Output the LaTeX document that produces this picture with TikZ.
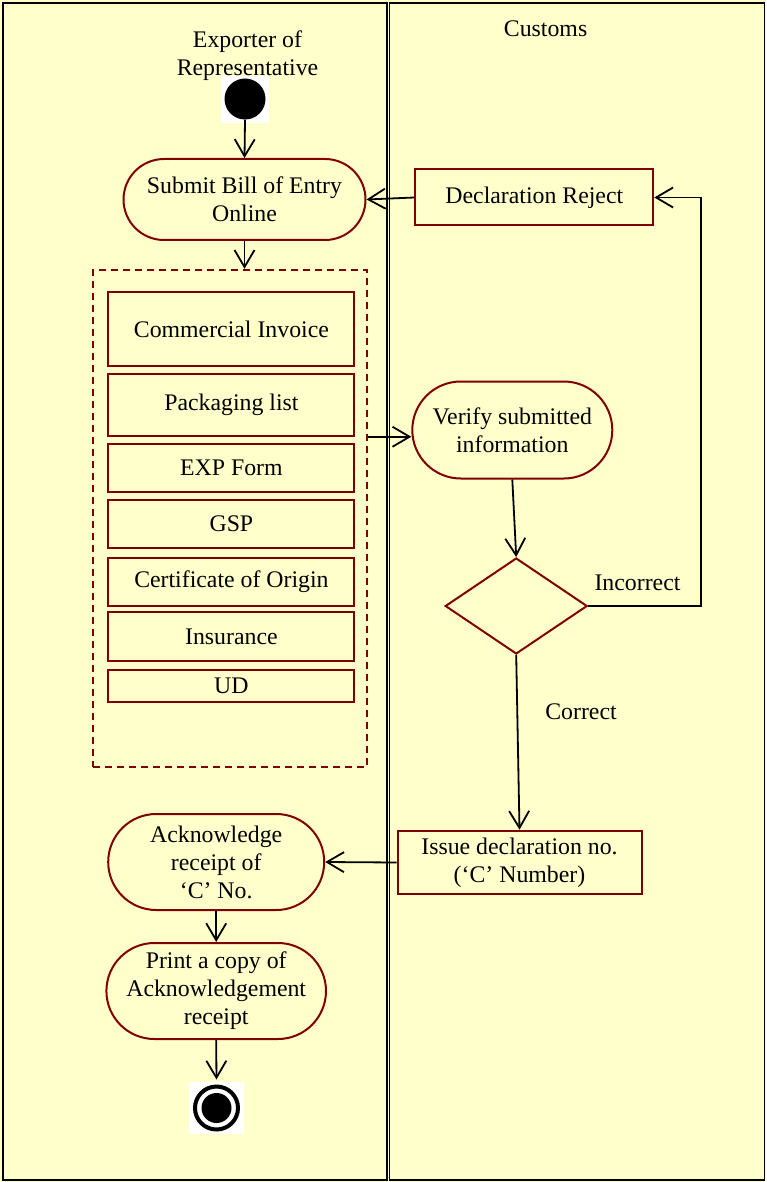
\documentclass[tikz,border=0pt]{standalone}
\usepackage{fontspec}
\setmainfont{Liberation Serif}
\usetikzlibrary{arrows.meta,shapes.geometric,shapes.misc}
\definecolor{cream}{RGB}{255,255,204}
\definecolor{dred}{RGB}{128,0,0}
\tikzset{
  every node/.style={font=\fontsize{23.8}{28}\selectfont, align=center, inner sep=0pt},
  lane/.style={draw=black, line width=1.6pt},
  act/.style={rounded rectangle, draw=dred, line width=2pt},
  stepbox/.style={rectangle, draw=dred, line width=2pt},
  docbox/.style={rectangle, draw=dred, line width=2pt, minimum width=246pt},
  groupbox/.style={rectangle, draw=dred, line width=2pt, dash pattern=on 7pt off 5pt},
  decision/.style={diamond, draw=dred, line width=2pt, aspect=1.48},
  arr/.style={draw=black, line width=1.8pt, -{Straight Barb[length=17pt,width=20pt,line width=1.8pt]}},
  lbl/.style={}
}
\begin{document}
\begin{tikzpicture}[x=1pt,y=-1pt]
\useasboundingbox (0,0) rectangle (766,1182);
\fill[cream] (0,0) rectangle (766,1182);
% swimlanes
\draw[lane] (3,3) rectangle (387,1180);
\draw[lane] (389.5,3) rectangle (764.5,1180);
\node[lbl] (lane1) at (247.5,55.5) {Exporter of\\Representative};
\node[lbl] (lane2) at (545.6,28.5) {Customs};
% start
\fill[white] (221,76) rectangle (269,123);
\node[circle, fill=black, minimum size=41pt] (start) at (245,99) {};
% left lane activities
\node[act, minimum width=242pt, minimum height=81pt] (submit) at (244.5,199.5) {Submit Bill of Entry\\Online};
\node[groupbox, minimum width=274pt, minimum height=497pt] (docs) at (230.4,518.3) {};
\node[docbox, minimum height=74.5pt] (ci) at (231.4,329.2) {Commercial Invoice};
\node[docbox, minimum height=61.7pt] (pl) at (231.4,404.9) {Packaging list};
\node[docbox, minimum height=47.7pt] (exp) at (231.4,467.9) {EXP Form};
\node[docbox, minimum height=48.3pt] (gsp) at (231.4,524.2) {GSP};
\node[docbox, minimum height=48.3pt] (coo) at (231.4,581.9) {Certificate of Origin};
\node[docbox, minimum height=48.4pt] (ins) at (231.4,636.5) {Insurance};
\node[docbox, minimum height=32.3pt] (ud) at (231.4,686.2) {UD};
\node[act, minimum width=216pt, minimum height=96pt] (ack) at (216.2,862) {Acknowledge\\receipt of\\‘C’ No.};
\node[act, minimum width=216pt, minimum height=96pt] (print) at (216.2,991) {Print a copy of\\Acknowledgement\\receipt};
% end
\fill[white] (189,1082) rectangle (244,1134);
\node[circle, draw=black, line width=4pt, minimum size=43pt] (end) at (216.5,1108) {};
\fill[black] (end.center) circle (15pt);
% right lane
\node[stepbox, minimum width=238pt, minimum height=56pt] (reject) at (534.3,197.5) {Declaration Reject};
\node[act, minimum width=200pt, minimum height=97pt] (verify) at (512.3,430) {Verify submitted\\information};
\node[decision, minimum width=142pt, minimum height=96pt] (dec) at (516.2,606) {};
\node[stepbox, minimum width=244pt, minimum height=63.6pt] (issue) at (519.5,862.5) {Issue declaration no.\\(‘C’ Number)};
\node[lbl] (lincorrect) at (637.5,583) {Incorrect};
\node[lbl] (lcorrect) at (581,712) {Correct};
\coordinate (loopx) at (701,400);
% connectors
\draw[arr] (start.south) -- (submit.north);
\draw[arr] (submit.south) -- (submit.south |- docs.north);
\draw[arr] (pl.south -| docs.east) -- (pl.south -| verify.west);
\draw[arr] (verify.south) -- (dec.north);
\draw[arr] (dec.east) -- (dec.east -| loopx) |- (reject.east);
\draw[arr] (reject.west) -- (submit.east);
\draw[arr] (dec.south) -- (issue.north);
\draw[arr] (issue.west) -- (ack.east);
\draw[arr] (ack.south) -- (print.north);
\draw[arr, shorten >=5pt] (print.south) -- (end.north);
\end{tikzpicture}
\end{document}
